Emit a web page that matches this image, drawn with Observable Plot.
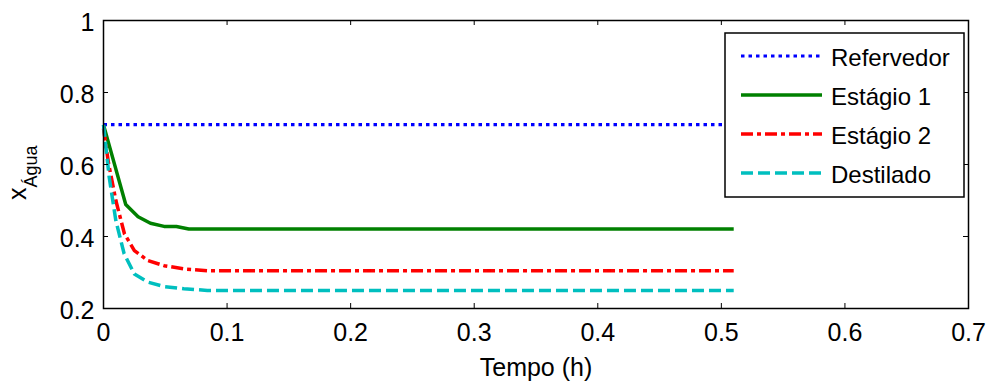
<!DOCTYPE html>
<html>
<head>
<meta charset="utf-8">
<script src="https://cdn.jsdelivr.net/npm/d3@7"></script>
<script src="https://cdn.jsdelivr.net/npm/@observablehq/plot@0.6"></script>
<style>
  html, body { margin: 0; padding: 0; background: #fff; }
  #chart { width: 992px; height: 383px; }
</style>
</head>
<body>
<div id="chart"></div>
<script>
// ---- data ----
const seriesNames = ["Refervedor", "Estágio 1", "Estágio 2", "Destilado"];
const seriesColors = ["#0000ff", "#008000", "#ff0000", "#00bfbf"];
const seriesDash = ["3.5,4", null, "12,4,4,4", "12,5"];

const refervedorT = [0, 0.51];
const refervedorX = [0.711, 0.711];

const estagio1T = [0, 0.018, 0.028, 0.038, 0.049, 0.059, 0.069, 0.51];
const estagio1X = [0.71, 0.489, 0.455, 0.437, 0.428, 0.428, 0.421, 0.421];

const estagio2T = [0, 0.004, 0.010, 0.017, 0.025, 0.036, 0.049, 0.065, 0.084, 0.51];
const estagio2X = [0.70, 0.605, 0.50, 0.407, 0.361, 0.333, 0.319, 0.310, 0.305, 0.305];

const destiladoT = [0, 0.0046, 0.010, 0.0167, 0.025, 0.036, 0.049, 0.065, 0.084, 0.51];
const destiladoX = [0.71, 0.565, 0.444, 0.352, 0.296, 0.273, 0.261, 0.255, 0.25, 0.25];

const xTicks = [0, 0.1, 0.2, 0.3, 0.4, 0.5, 0.6, 0.7];
const yTicks = [0.2, 0.4, 0.6, 0.8, 1];
const xLabel = "Tempo (h)";
const yLabelMain = "x";
const yLabelSub = "Água";

// ---- build ----
const allT = [refervedorT, estagio1T, estagio2T, destiladoT];
const allX = [refervedorX, estagio1X, estagio2X, destiladoX];
const series = seriesNames.map((name, i) => allT[i].map((t, j) => ({t, x: allX[i][j], name})));

const W = 992, H = 383;
const mL = 103, mR = 24, mT = 20, mB = 75;
const plotW = W - mL - mR, plotH = H - mT - mB;
const tick = 5;
const font = "'Liberation Sans', Arial, Helvetica, sans-serif";
const fs = 25;

const lineMarks = series.map((d, i) => Plot.line(d, {
  x: "t", y: "x",
  stroke: seriesColors[i],
  strokeWidth: i === 0 ? 3.2 : 3.5,
  strokeDasharray: seriesDash[i] || undefined,
  strokeLinejoin: "round",
  strokeLinecap: "butt"
}));

const chart = Plot.plot({
  width: W, height: H,
  marginLeft: mL, marginRight: mR, marginTop: mT, marginBottom: mB,
  style: {fontFamily: font, fontSize: fs + "px", color: "#000", background: "#fff"},
  x: {domain: [0, 0.7]},
  y: {domain: [0.2, 1]},
  marks: [
    ...lineMarks,
    // inward ticks
    Plot.tickX(xTicks, {x: d => d, insetTop: plotH - tick, stroke: "#000", strokeWidth: 1}),
    Plot.tickX(xTicks, {x: d => d, insetBottom: plotH - tick, stroke: "#000", strokeWidth: 1}),
    Plot.tickY(yTicks, {y: d => d, insetRight: plotW - tick, stroke: "#000", strokeWidth: 1}),
    Plot.tickY(yTicks, {y: d => d, insetLeft: plotW - tick, stroke: "#000", strokeWidth: 1}),
    Plot.axisX({ticks: xTicks, tickSize: 0, tickPadding: 15, label: null, tickFormat: d => String(+d.toFixed(1)), fontSize: fs}),
    Plot.axisY({ticks: yTicks, tickSize: 0, tickPadding: 9, dy: 2, label: null, tickFormat: d => String(+d.toFixed(1)), fontSize: fs}),
    Plot.text([xLabel], {text: d => d, frameAnchor: "bottom", dy: 67, fontSize: fs, fill: "#000"}),
    Plot.frame({stroke: "#000", strokeWidth: 1.5})
  ]
});

const svg = d3.select(chart);

// y-axis label with subscript
const yl = svg.append("text")
  .attr("transform", `translate(26,${mT + plotH * 0.53}) rotate(-90)`)
  .attr("text-anchor", "middle")
  .attr("font-family", font)
  .attr("font-size", fs)
  .attr("fill", "#000");
yl.append("tspan").text(yLabelMain);
yl.append("tspan").attr("dy", 11).attr("font-size", 18).text(yLabelSub);

// legend
const lgX = 725, lgY = 33, lgW = 239, lgH = 164;
const lg = svg.append("g");
lg.append("rect").attr("x", lgX).attr("y", lgY).attr("width", lgW).attr("height", lgH)
  .attr("fill", "#fff").attr("stroke", "#000").attr("stroke-width", 1.5);
seriesNames.forEach((name, i) => {
  const cy = lgY + 23 + i * 39;
  lg.append("line").attr("x1", lgX + 16).attr("x2", lgX + 97).attr("y1", cy).attr("y2", cy)
    .attr("stroke", seriesColors[i]).attr("stroke-width", i === 0 ? 3.2 : 3.5)
    .attr("stroke-dasharray", seriesDash[i]);
  lg.append("text").attr("x", lgX + 106).attr("y", cy + 2).attr("dy", "0.35em")
    .attr("text-anchor", "start")
    .attr("font-family", font).attr("font-size", 24).attr("fill", "#000").text(name);
});

document.getElementById("chart").appendChild(chart);
</script>
</body>
</html>
